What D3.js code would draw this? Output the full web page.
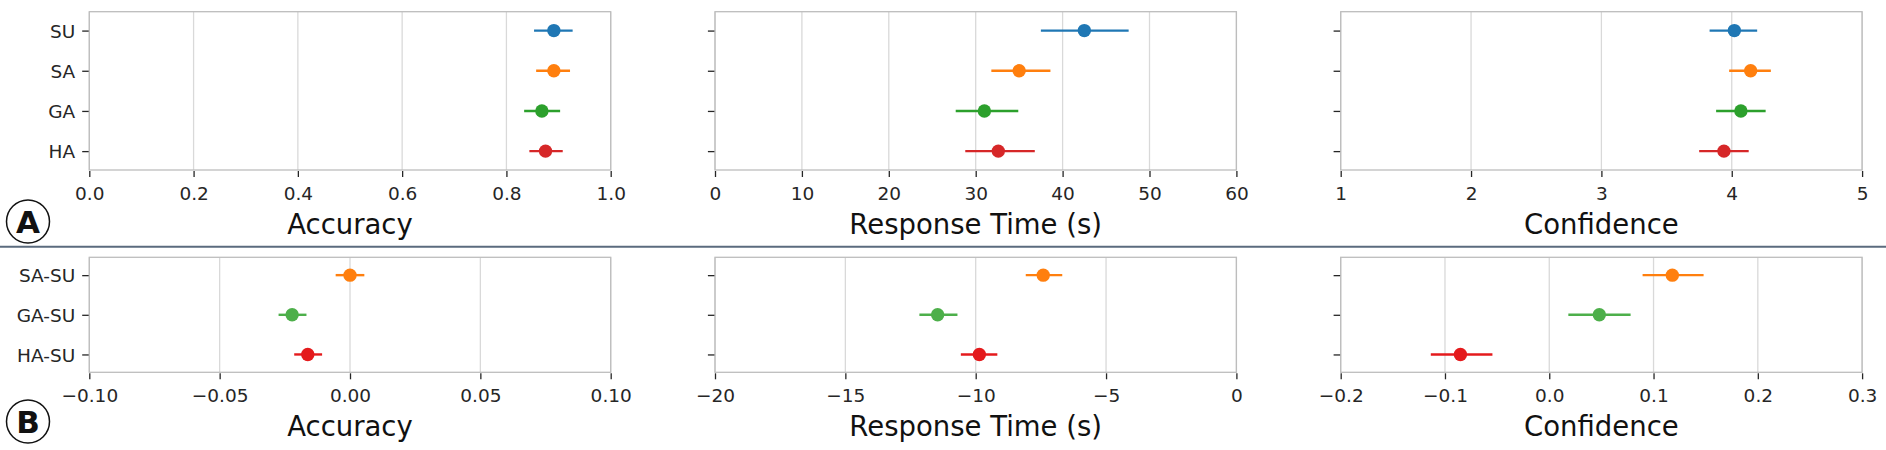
<!DOCTYPE html>
<html>
<head>
<meta charset="utf-8">
<script src="https://cdn.jsdelivr.net/npm/d3@7"></script>
<style>
  body { margin: 0; background: #fff; }
  svg { display: block; font-family: "DejaVu Sans", sans-serif; }
</style>
</head>
<body>
<div id="chart"></div>
<script>
// condition groups (top row) and differences to SU (bottom row)
const groups = ["SU", "SA", "GA", "HA"];
const diffs = ["SA-SU", "GA-SU", "HA-SU"];
const groupColors = ["#1f77b4", "#ff7f0e", "#2ca02c", "#d62728"];
const diffColors = ["#ff7f0e", "#4daf4a", "#e41a1c"];

const metricLabels = ["Accuracy", "Response Time (s)", "Confidence"];

// top row: means with confidence intervals
const accuracyMean = [0.891, 0.891, 0.868, 0.875];
const accuracyLow = [0.853, 0.857, 0.834, 0.844];
const accuracyHigh = [0.927, 0.922, 0.903, 0.908];
const rtMean = [42.5, 35.0, 31.0, 32.6];
const rtLow = [37.5, 31.8, 27.7, 28.8];
const rtHigh = [47.6, 38.6, 34.9, 36.8];
const confMean = [4.02, 4.145, 4.07, 3.94];
const confLow = [3.83, 3.98, 3.88, 3.75];
const confHigh = [4.195, 4.3, 4.26, 4.13];

// bottom row: differences against SU
const dAccMean = [0.0, -0.0222, -0.0162];
const dAccLow = [-0.0055, -0.0274, -0.0214];
const dAccHigh = [0.0055, -0.0167, -0.0107];
const dRtMean = [-7.41, -11.46, -9.86];
const dRtLow = [-8.08, -12.16, -10.57];
const dRtHigh = [-6.68, -10.7, -9.17];
const dConfMean = [0.118, 0.048, -0.0852];
const dConfLow = [0.0895, 0.0183, -0.1136];
const dConfHigh = [0.148, 0.078, -0.0545];

// tick values
const accuracyTicks = [0, 0.2, 0.4, 0.6, 0.8, 1.0];
const rtTicks = [0, 10, 20, 30, 40, 50, 60];
const confTicks = [1, 2, 3, 4, 5];
const dAccTicks = [-0.1, -0.05, 0, 0.05, 0.1];
const dRtTicks = [-20, -15, -10, -5, 0];
const dConfTicks = [-0.2, -0.1, 0, 0.1, 0.2, 0.3];

const width = 1886;
const height = 450;
const panelLeft = 89.3;
const panelW = 521.4;
const panelGap = 104.3;
const spineColor = "#bdbdbd";
const gridColor = "#d9d9d9";
const textColor = "#262626";

const rows = [
  {
    top: 11.7, bottom: 170, pad: 0.47, cats: groups, colors: groupColors,
    tag: "A", tagY: 221.5,
    panels: [
      { mean: accuracyMean, lo: accuracyLow, hi: accuracyHigh, ticks: accuracyTicks, fmt: d3.format(".1f") },
      { mean: rtMean, lo: rtLow, hi: rtHigh, ticks: rtTicks, fmt: d3.format("d") },
      { mean: confMean, lo: confLow, hi: confHigh, ticks: confTicks, fmt: d3.format("d") },
    ],
  },
  {
    top: 257.3, bottom: 372.3, pad: 0.45, cats: diffs, colors: diffColors,
    tag: "B", tagY: 421.5,
    panels: [
      { mean: dAccMean, lo: dAccLow, hi: dAccHigh, ticks: dAccTicks, fmt: d3.format(".2f") },
      { mean: dRtMean, lo: dRtLow, hi: dRtHigh, ticks: dRtTicks, fmt: d3.format("d") },
      { mean: dConfMean, lo: dConfLow, hi: dConfHigh, ticks: dConfTicks, fmt: d3.format(".1f") },
    ],
  },
];

const svg = d3
  .select("#chart")
  .append("svg")
  .attr("width", width)
  .attr("height", height);

rows.forEach((row) => {
  const y = d3
    .scalePoint()
    .domain(row.cats)
    .range([row.top, row.bottom])
    .padding(row.pad);

  row.panels.forEach((p, j) => {
    const x0 = panelLeft + j * (panelW + panelGap);
    const x = d3
      .scaleLinear()
      .domain([p.ticks[0], p.ticks[p.ticks.length - 1]])
      .range([x0, x0 + panelW]);

    const g = svg.append("g");

    // vertical grid
    g.append("g")
      .selectAll("line")
      .data(p.ticks)
      .join("line")
      .attr("x1", (d) => x(d))
      .attr("x2", (d) => x(d))
      .attr("y1", row.top)
      .attr("y2", row.bottom)
      .attr("stroke", gridColor)
      .attr("stroke-width", 1.3);

    // frame
    g.append("rect")
      .attr("x", x0)
      .attr("y", row.top)
      .attr("width", panelW)
      .attr("height", row.bottom - row.top)
      .attr("fill", "none")
      .attr("stroke", spineColor)
      .attr("stroke-width", 1.3);

    // x axis
    const xa = g
      .append("g")
      .attr("transform", `translate(0,${row.bottom + 1})`)
      .call(d3.axisBottom(x).tickValues(p.ticks).tickFormat(p.fmt).tickSize(6).tickPadding(9.5));
    xa.select(".domain").remove();
    xa.selectAll("line").attr("stroke", textColor).attr("stroke-width", 1.3);
    xa.selectAll("text")
      .attr("fill", textColor)
      .style("font-size", "18.5px")
      .style("font-family", "DejaVu Sans, sans-serif");

    // y axis
    const ya = g
      .append("g")
      .attr("transform", `translate(${x0 - 0.6},0)`)
      .call(d3.axisLeft(y).tickSize(6.5).tickPadding(7));
    ya.select(".domain").remove();
    ya.selectAll("line").attr("stroke", textColor).attr("stroke-width", 1.3);
    ya.selectAll("text")
      .attr("fill", textColor)
      .attr("dy", "0.36em")
      .style("font-size", "18.5px")
      .style("font-family", "DejaVu Sans, sans-serif");
    if (j > 0) ya.selectAll("text").remove();

    // axis label
    g.append("text")
      .attr("x", x0 + panelW / 2)
      .attr("y", row.bottom + 64)
      .attr("text-anchor", "middle")
      .attr("fill", "#111")
      .style("font-size", "27.5px")
      .text(metricLabels[j]);

    // error bars and points
    const pts = g
      .append("g")
      .selectAll("g")
      .data(row.cats.map((c, i) => ({ c, i })))
      .join("g");
    pts
      .append("line")
      .attr("x1", (d) => x(p.lo[d.i]))
      .attr("x2", (d) => x(p.hi[d.i]))
      .attr("y1", (d) => y(d.c))
      .attr("y2", (d) => y(d.c))
      .attr("stroke", (d) => row.colors[d.i])
      .attr("stroke-width", 2.4);
    pts
      .append("circle")
      .attr("cx", (d) => x(p.mean[d.i]))
      .attr("cy", (d) => y(d.c))
      .attr("r", 6.7)
      .attr("fill", (d) => row.colors[d.i]);
  });

  // panel tag circle
  const tag = svg.append("g").attr("transform", `translate(28,${row.tagY})`);
  tag.append("circle")
    .attr("r", 21.5)
    .attr("fill", "#fff")
    .attr("stroke", "#111")
    .attr("stroke-width", 1.5);
  tag.append("text")
    .attr("text-anchor", "middle")
    .attr("dy", "0.36em")
    .attr("fill", "#111")
    .style("font-size", "31px")
    .style("font-weight", "bold")
    .text(row.tag);
});

// separator between the two rows
svg.append("line")
  .attr("x1", 0)
  .attr("x2", width)
  .attr("y1", 246.7)
  .attr("y2", 246.7)
  .attr("stroke", "#5b6b7e")
  .attr("stroke-width", 2);
</script>
</body>
</html>
